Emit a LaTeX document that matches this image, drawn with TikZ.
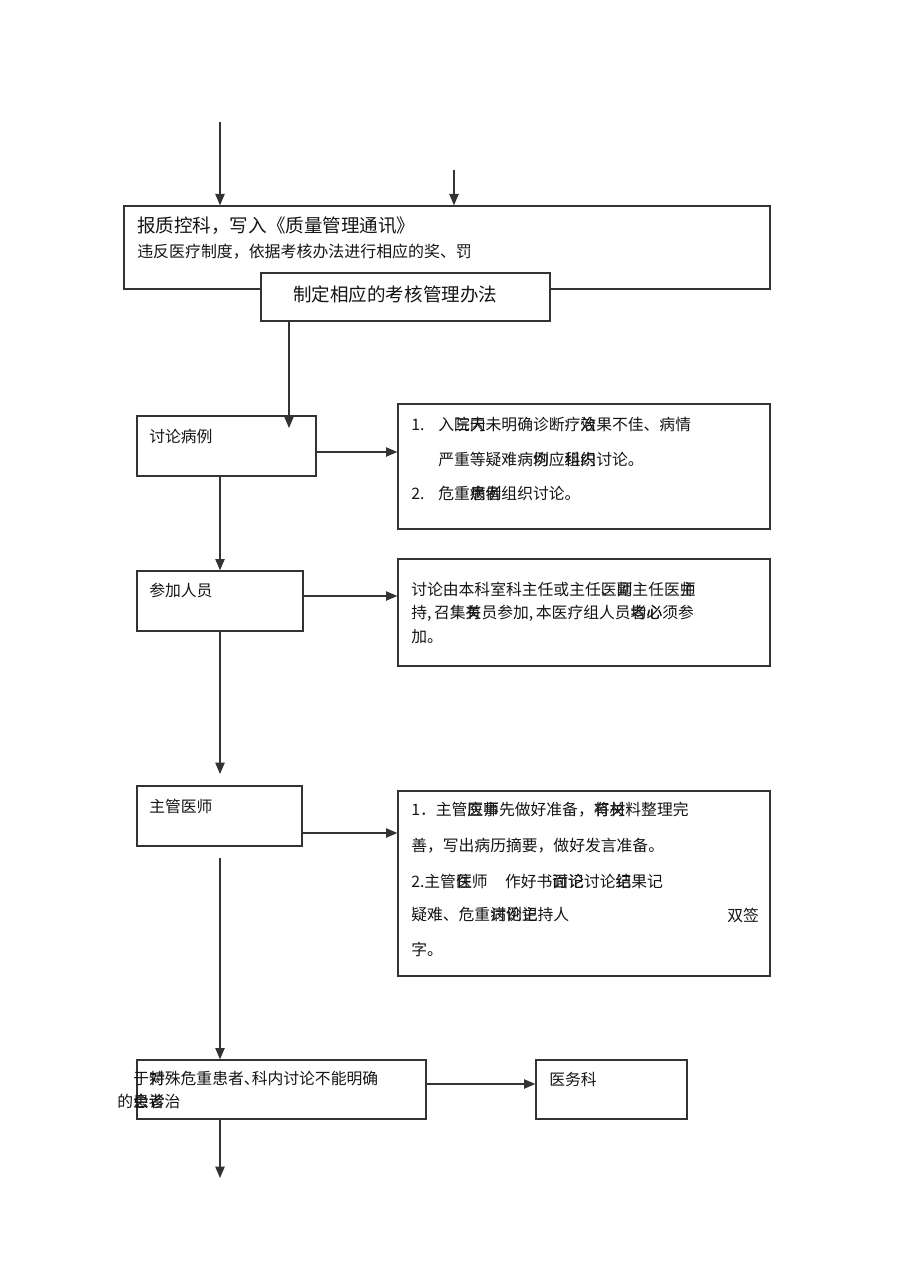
\documentclass[tikz,border=0pt]{standalone}
\usepackage{fontspec}
\setmainfont{Noto Sans CJK SC}
\usetikzlibrary{arrows.meta,fit}
\newcommand\ov[2]{\makebox[1em][l]{\rlap{#1}#2}}
\definecolor{ln}{HTML}{333333}
\definecolor{tx}{HTML}{151515}
\tikzset{
  box/.style={draw=ln, line width=1pt, inner sep=0pt, fill=white},
  arr/.style={draw=ln, line width=1pt, -{Triangle[length=8.5pt,width=7pt]}},
  lbl/.style={anchor=west, inner sep=0pt, text=tx, font=\fontsize{11.85}{13}\selectfont},
  big/.style={anchor=west, inner sep=0pt, text=tx, font=\fontsize{13.9}{15}\selectfont},
  mid/.style={anchor=west, inner sep=0pt, text=tx, font=\fontsize{11.95}{13}\selectfont},
}
\begin{document}
\begin{tikzpicture}[x=0.75pt,y=-0.75pt]
\useasboundingbox[fill=white] (0,0) rectangle (910,1287);
% boxes
\node[box, fit={(124,206)(770,289)}] (top) {};
\node[box, fit={(261,273)(550,321)}] (rule) {};
\node[box, fit={(137,416)(316,476)}] (disc) {};
\node[box, fit={(398,404)(770,529)}] (r1) {};
\node[box, fit={(137,571)(303,631)}] (join) {};
\node[box, fit={(398,559)(770,666)}] (r2) {};
\node[box, fit={(137,786)(302,846)}] (doc) {};
\node[box, fit={(398,791)(770,976)}] (r3) {};
\node[box, fit={(137,1060)(426,1119)}] (bot) {};
\node[box, fit={(536,1060)(687,1119)}] (yw) {};
% helper coordinates
\coordinate (s1) at (220,122);
\coordinate (s2) at (454,170);
\coordinate (cx) at (220,0);
\coordinate (rx) at (289,0);
\coordinate (e1) at (289,428);
\coordinate (e2) at (220,774);
\coordinate (s3) at (220,858);
\coordinate (e3) at (220,1178);
\coordinate (y1) at (0,452);
\coordinate (y2) at (0,596);
\coordinate (y3) at (0,833);
\coordinate (y4) at (0,1084);
% connectors
\draw[arr] (s1) -- (top.north -| s1);
\draw[arr] (s2) -- (top.north -| s2);
\draw[arr] (rule.south -| rx) -- (e1);
\draw[arr] (disc.east |- y1) -- (r1.west |- y1);
\draw[arr] (disc.south -| cx) -- (join.north -| cx);
\draw[arr] (join.east |- y2) -- (r2.west |- y2);
\draw[arr] (join.south -| cx) -- (e2);
\draw[arr] (doc.east |- y3) -- (r3.west |- y3);
\draw[arr] (s3) -- (bot.north -| cx);
\draw[arr] (bot.east |- y4) -- (yw.west |- y4);
\draw[arr] (bot.south -| cx) -- (e3);
% texts
\node[big] (t1) at (137,226) {报质控科，写入《质量管理通讯》};
\node[mid] (t2) at (137,252) {违反医疗制度，依据考核办法进行相应的奖、罚};
\node[big] (t3) at (293,294) {制定相应的考核管理办法};
\node[lbl] (t4) at (149,436) {讨论病例};
\node[lbl] (a1) at (411,424) {\makebox[20.25pt][l]{1.}入\ov{院}{三}\ov{内}{天}未明确诊断疗\ov{效}{治}果不佳、病情};
\node[lbl] (a2) at (438,459) {严重等疑难病\ov{例}{均}应\ov{组}{科}\ov{织}{内}讨论。};
\node[lbl] (a3) at (411,494) {\makebox[20.25pt][l]{2.}危重\ov{病}{患}\ov{例}{者}组织讨论。};
\node[lbl] (t5) at (149,590) {参加人员};
\node[lbl] (b1) at (411,589) {讨论由本科室科主任或主任\ov{医}{、}\ov{师}{副}主任医\ov{师}{主}};
\node[lbl] (b2) at (411,613) {持,\,召集\ov{有}{关}员参加,\,本医疗组人员\ov{者}{均}\ov{必}{心}须参};
\node[lbl] (b3) at (411,637) {加。};
\node[lbl] (t6) at (149,806) {主管医师};
\node[lbl] (c1) at (411,810) {1．主管\ov{医}{应}\ov{师}{事}先做好准备，\ov{将}{有}\ov{材}{关}料整理完};
\node[lbl] (c2) at (411,846) {善，写出病历摘要，做好发言准备。};
\node[lbl] (c3) at (411,881) {2.主管\ov{医}{住}师\hspace{1.1em}作好书\ov{面}{讨}\ov{记}{论}讨论\ov{结}{记}果记};
\node[lbl] (c4) at (411,915) {疑难、危重\ov{病}{讨}\ov{例}{论}\ov{记}{主}持人};
\node[lbl] (c5) at (727,915) {双签};
\node[lbl] (c6) at (411,949) {字。};
\node[lbl] (d1) at (133,1079) {于\ov{对}{特}殊危重患者\makebox[0.5em][l]{、}科内讨论不能明确};
\node[lbl] (d2) at (117,1101) {的\ov{患}{会}\ov{者}{诊}治};
\node[lbl] (t7) at (549,1079) {医务科};
\end{tikzpicture}
\end{document}
